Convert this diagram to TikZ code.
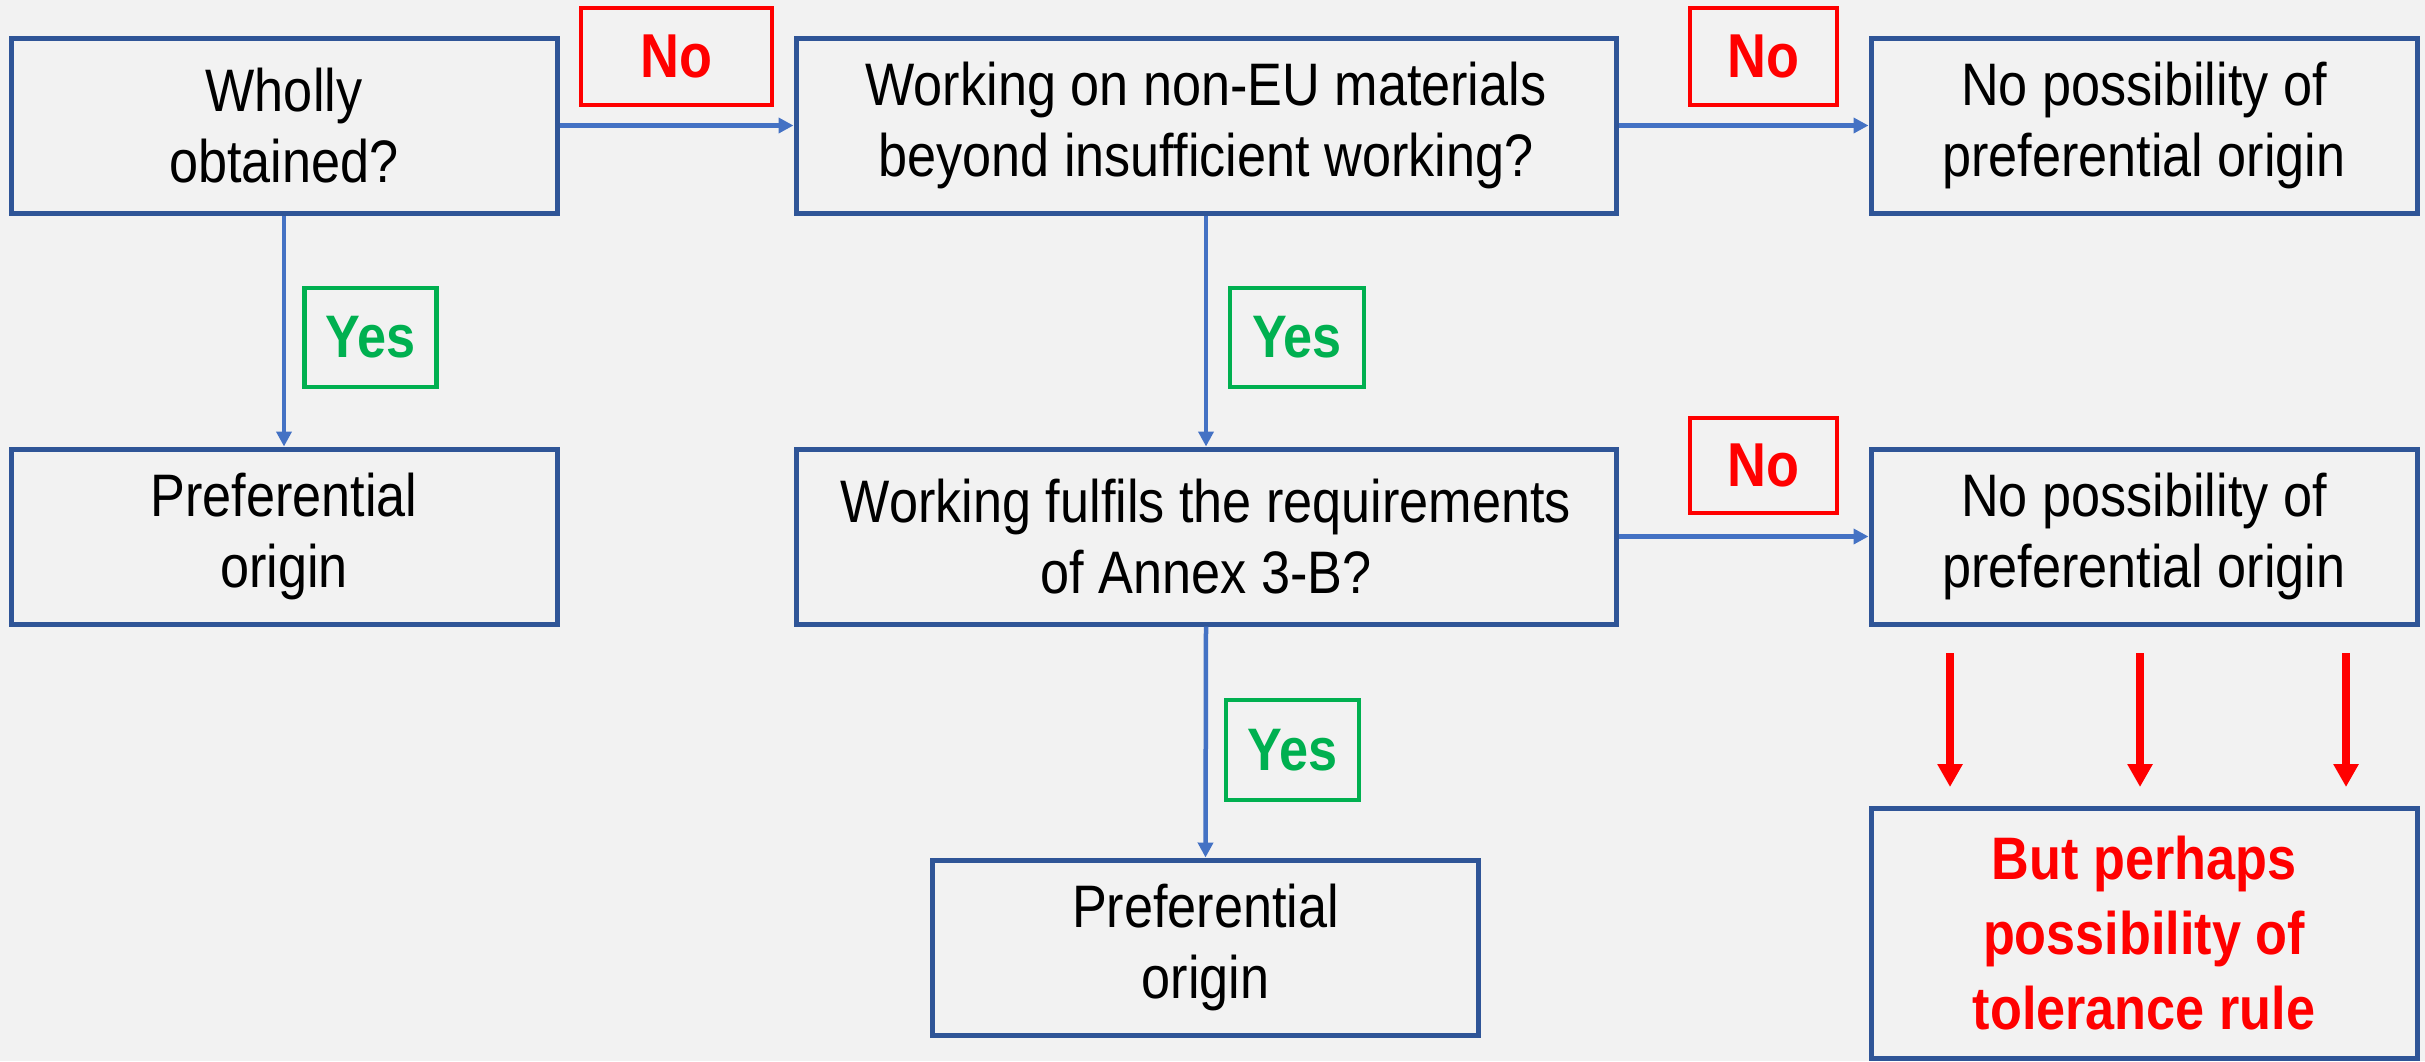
\documentclass[tikz,border=0pt]{standalone}
\usepackage{fontspec}
\setmainfont{Liberation Sans}[FakeStretch=0.87]
\usetikzlibrary{arrows.meta}
\definecolor{bg}{HTML}{F2F2F2}
\definecolor{boxblue}{HTML}{2F5597}
\definecolor{linkblue}{HTML}{4472C4}
\definecolor{nored}{HTML}{FF0000}
\definecolor{yesgreen}{HTML}{00B050}
\begin{document}
\begin{tikzpicture}[x=1pt,y=-1pt,
  stepbox/.style={draw=boxblue, line width=5pt, align=center, inner sep=0pt,
    minimum width=546pt, minimum height=175pt,
    font=\fontsize{60}{71}\selectfont},
  widebox/.style={stepbox, minimum width=820pt},
  nolabel/.style={draw=nored, line width=4.5pt, text=nored, inner sep=0pt,
    minimum height=97pt, font=\fontsize{62}{70}\selectfont\bfseries},
  yeslabel/.style={draw=yesgreen, line width=4.5pt, text=yesgreen, inner sep=0pt,
    minimum width=132pt, minimum height=99pt, font=\fontsize{60}{70}\selectfont\bfseries},
  link/.style={draw=linkblue, line width=4.5pt, -{Triangle[width=15pt,length=15pt]}},
  hint/.style={draw=nored, line width=8pt, -{Triangle[width=24pt,length=23pt]}}
]
\clip (0,0) rectangle (2425,1061);
\fill[bg] (0,0) rectangle (2425,1061);

% decision and result boxes
\node[stepbox] (whol) at (284,125.5) {Wholly\\obtained?};
\node[widebox] (work) at (1206,125.5) {Working on non-EU materials\\beyond insufficient working?};
\node[stepbox] (nopo1) at (2144,125.5) {No possibility of\\preferential origin};
\node[stepbox] (pref1) at (284,536.5) {Preferential\\origin};
\node[widebox] (annex) at (1206,536.5) {Working fulfils the requirements\\of Annex 3-B?};
\node[stepbox] (nopo2) at (2144,536.5) {No possibility of\\preferential origin};
\node[stepbox] (pref2) at (1205.5,947.5) {Preferential\\origin};
\node[stepbox, minimum height=250pt, text=nored, font=\fontsize{60}{75}\selectfont\bfseries]
  (toler) at (2144,933) {But perhaps\\possibility of\\tolerance rule};

% answer labels
\node[nolabel, minimum width=191pt] (no1) at (676.5,56.5) {No};
\node[nolabel, minimum width=147pt] (no2) at (1763.5,56.5) {No};
\node[nolabel, minimum width=147pt, minimum height=95pt] (no3) at (1763.5,465.5) {No};
\node[yeslabel] (yes1) at (370.5,337.5) {Yes};
\node[yeslabel, minimum width=134pt] (yes2) at (1297,337.5) {Yes};
\node[yeslabel, minimum width=133pt, minimum height=100pt] (yes3) at (1292.5,750) {Yes};

% connectors
\draw[link] (whol.east) -- (work.west);
\draw[link] (work.east) -- (nopo1.west);
\draw[link] (annex.east) -- (nopo2.west);
\draw[link] (whol.south) -- (pref1.north);
\draw[link] (work.south) -- (annex.north);
\draw[link] (annex.south) -- (pref2.north);

% red hint arrows
\coordinate (h1a) at (1950,653); \coordinate (h1b) at (1950,787);
\coordinate (h2a) at (2140,653); \coordinate (h2b) at (2140,787);
\coordinate (h3a) at (2346,653); \coordinate (h3b) at (2346,787);
\draw[hint] (h1a) -- (h1b);
\draw[hint] (h2a) -- (h2b);
\draw[hint] (h3a) -- (h3b);
\end{tikzpicture}
\end{document}
